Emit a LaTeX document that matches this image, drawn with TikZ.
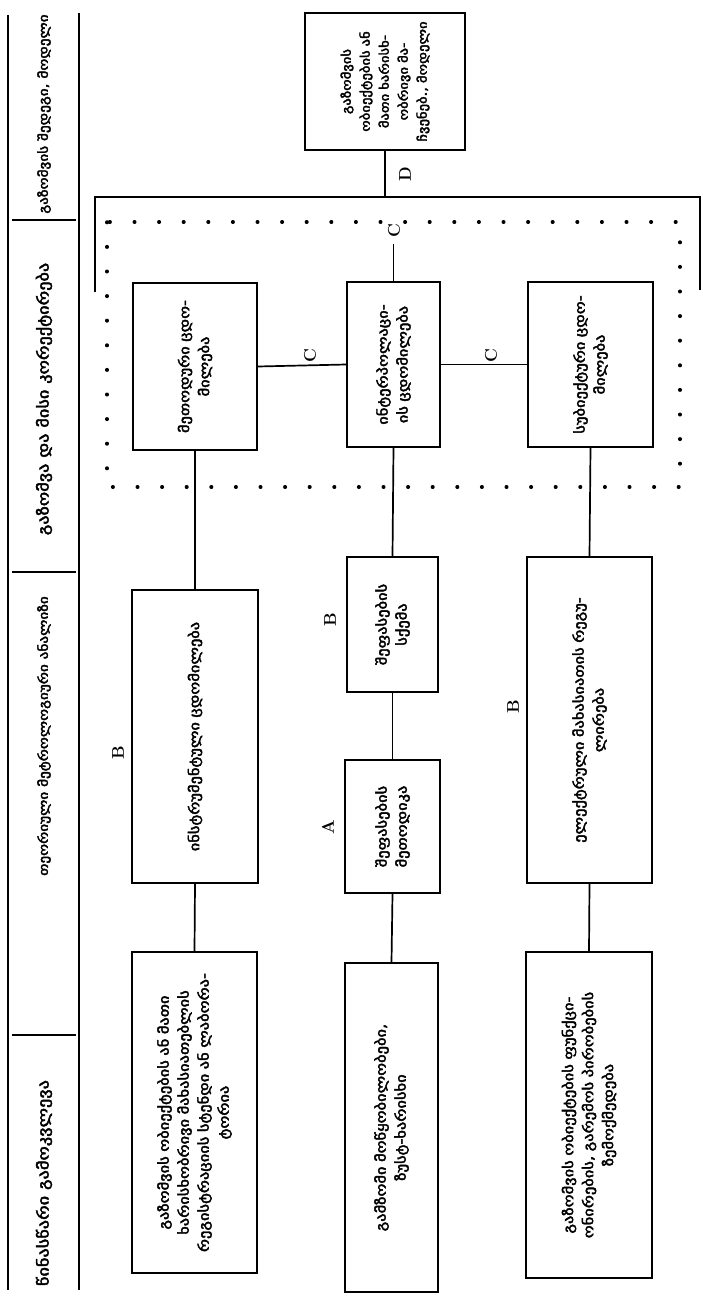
\documentclass[tikz,border=0pt]{standalone}
\usepackage{fontspec}
\newfontfamily\geo[FakeBold=3,FakeStretch=1.22]{DejaVu Sans}
\begin{document}
\begin{tikzpicture}[x=1pt,y=-1pt,
  box/.style={draw, line width=1.7pt, rotate=90, inner sep=0pt, align=center,
    font=\geo\fontsize{13.5}{20}\selectfont},
  hdr/.style={rotate=90, inner sep=0pt, font=\geo\fontsize{15}{16}\selectfont},
  lbl/.style={rotate=90, inner sep=0pt, font=\bfseries\fontsize{17}{17}\selectfont},
  conn/.style={line width=1.7pt},
  frame/.style={line width=1.7pt},
  dots/.style={line width=3.4pt, line cap=round, dash pattern=on 0.6pt off 24pt}
]
\useasboundingbox (0,0) rectangle (702,1297);
% header column
\draw[line width=1.3pt] (8,15) -- (8,1290);
\draw[frame] (79,13) -- (79,1290);
\draw[frame] (12,220) -- (76,220);
\draw[frame] (12,572) -- (76,572);
\draw[frame] (12,1035) -- (76,1035);
\node[hdr, font=\geo\fontsize{12.5}{14}\selectfont] (h1) at (44,114) {გაზომვის შედეგი, მოდელი};
\node[hdr] (h2) at (44,399) {გაზომვა და მისი კორექტირება};
\node[hdr, font=\geo\fontsize{12.5}{14}\selectfont] (h3) at (44,736) {თეორიული მეტროლოგიური ანალიზი};
\node[hdr] (h4) at (44,1183) {წინასწარი გამოკვლევა};
% bracket and dotted group
\draw[frame] (95,292) -- (95,197) -- (700,197) -- (700,290);
\draw[dots] (107,222) rectangle (680,487);
% boxes
\node[box, minimum width=137pt, minimum height=160pt, text width=134pt,
  font=\geo\fontsize{12}{19}\selectfont] (D) at (385,81.5)
  {გაზომვის\\ობიექტების ან\\მათი ხარისხ-\\ობრივი მა-\\ჩვენებ., მოდელი};
\node[box, minimum width=167pt, minimum height=124pt, text width=160pt] (L1a) at (195,366.5)
  {მეთოდური ცდო-\\მილება};
\node[box, minimum width=165pt, minimum height=93pt, text width=160pt] (L2a) at (393.5,364.5)
  {ინტერპოლაცი-\\ის ცდომილება};
\node[box, minimum width=165pt, minimum height=125pt, text width=160pt] (L3a) at (590.5,364.5)
  {სუბიექტური ცდო-\\მილება};
\node[box, minimum width=293pt, minimum height=126pt, text width=280pt] (L1b) at (195,736.5)
  {ინსტრუმენტული ცდომილება};
\node[box, minimum width=135pt, minimum height=91pt, text width=130pt] (L2b) at (392.5,624.5)
  {შეფასების\\სქემა};
\node[box, minimum width=133pt, minimum height=95pt, text width=130pt] (L2c) at (392.5,826.5)
  {შეფასების\\მეთოდიკა};
\node[box, minimum width=326pt, minimum height=125pt, text width=315pt] (L3b) at (589.5,720)
  {ელექტრული მახასიათის რეგუ-\\ლირება};
\node[box, minimum width=321pt, minimum height=125pt, text width=315pt] (L1c) at (194.5,1112.5)
  {გაზომვის ობიექტების ან მათი\\ხარისხობრივი მახასიათებლის\\რეგისტრაციის სტენდი ან ლაბორა-\\ტორია};
\node[box, minimum width=329pt, minimum height=93pt, text width=315pt] (L2d) at (391.5,1127.5)
  {გამზომი მოწყობილობები,\\ზუსტ-ხარისხი};
\node[box, minimum width=326pt, minimum height=126pt, text width=315pt] (L3c) at (589,1115)
  {გაზომვის ობიექტების ფუნქცი-\\ონირების, გარემოს პირობების\\ზემოქმედება};
% connectors
\draw[conn] (L1a.west) -- (L1b.east);
\draw[conn] (L1b.west) -- (L1c.east);
\draw[conn] (L2a.west) -- (L2b.east);
\draw[conn] (L2b.west) -- (L2c.east);
\draw[conn] (L2c.west) -- (L2d.east);
\draw[conn] (L3a.west) -- (L3b.east);
\draw[conn] (L3b.west) -- (L3c.east);
\draw[conn] (L1a.south) -- (L2a.north);
\draw[conn] (L2a.south) -- (L3a.north);
\coordinate (Dend) at (D.west |- 0,197);
\draw[conn] (D.west) -- (Dend);
\coordinate (Cend) at (L2a.east |- 0,244);
\draw[conn] (L2a.east) -- (Cend);
% labels
\node[lbl] (lD) at (405,174) {D};
\node[lbl] (lC0) at (394,231) {C};
\node[lbl] (lC1) at (310,356) {C};
\node[lbl] (lC2) at (491,356) {C};
\node[lbl] (lB1) at (118,753) {B};
\node[lbl] (lB2) at (330,620) {B};
\node[lbl] (lA) at (328,827) {A};
\node[lbl] (lB3) at (513,707) {B};
\end{tikzpicture}
\end{document}
